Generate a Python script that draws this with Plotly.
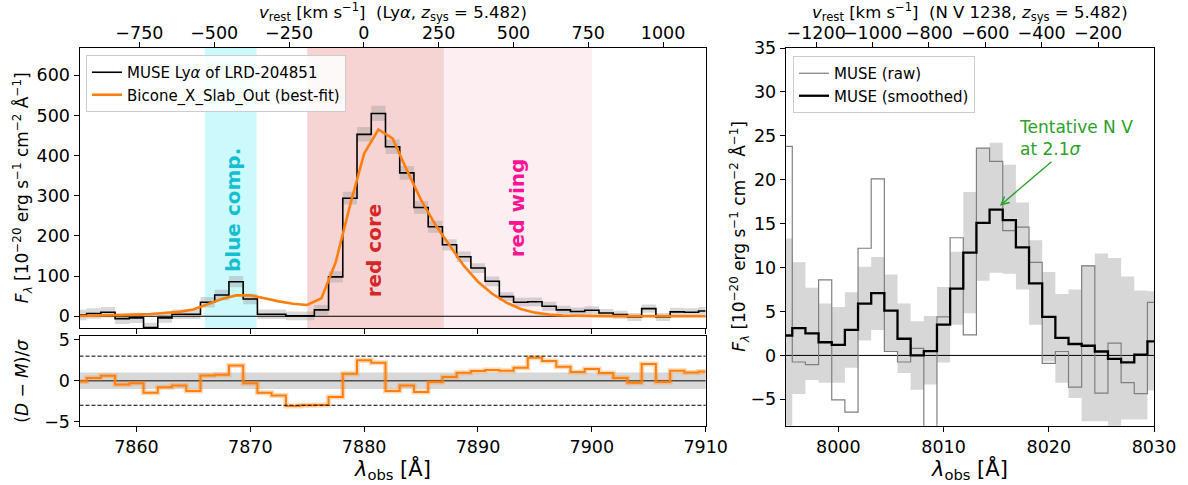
import plotly.graph_objects as go

C_KMS = 299792.458
LYA_REST = 1215.67
NV_REST = 1238.821
Z_SYS = 5.482

# ---------------- Left panel: Ly-alpha ----------------
lya_wave = [7855.0, 7856.25, 7857.5, 7858.75, 7860.0, 7861.25, 7862.5, 7863.75, 7865.0,
            7866.25, 7867.5, 7868.75, 7870.0, 7871.25, 7872.5, 7873.75, 7875.0, 7876.25,
            7877.5, 7878.75, 7880.0, 7881.25, 7882.5, 7883.75, 7885.0, 7886.25, 7887.5,
            7888.75, 7890.0, 7891.25, 7892.5, 7893.75, 7895.0, 7896.25, 7897.5, 7898.75,
            7900.0, 7901.25, 7902.5, 7903.75, 7905.0, 7906.25, 7907.5, 7908.75, 7910.0]
lya_flux = [3, 7, 10, -6, -4, -28, -4, 5, 5, 35, 53, 86, 43, 5, 5, 1, 1, 16, 98, 294,
            453, 505, 422, 357, 271, 223, 178, 148, 120, 87, 49, 35, 36, 25, 16, 12, 15,
            8, 4, -2, 19, -2, 11, 10, 13]
lya_err = [13, 13, 13, 13, 13, 12, 12, 12, 12, 13, 13, 14, 13, 12, 12, 11, 11, 12, 14, 16,
           18, 19, 18, 17, 16, 15, 14, 13, 12, 12, 11, 11, 11, 11, 10, 10, 10, 10, 10, 10,
           10, 10, 10, 10, 10]
lya_model = [0.5, 1, 2, 3, 4, 5.5, 7.5, 11, 17, 30, 43, 52, 52, 45, 37, 31, 28, 45, 134,
             275, 405, 465, 443, 364, 290, 228, 178, 126, 86, 56, 34, 18, 9, 4, 2, 1, 0.5,
             0.3, 0.2, 0.1, 0.1, 0.1, 0, 0, 0]
lya_resid = [-0.1, 0.32, 0.6, -0.45, -0.3, -1.46, -0.8, -0.6, -1.25, 0.65, 0.72, 1.86,
             -0.3, -1.46, -1.82, -3.08, -3.0, -2.96, -2.0, 0.85, 2.5, 2.2, -1.25, -0.6,
             -1.38, -0.15, 0.45, 0.97, 1.18, 1.3, 1.22, 1.58, 2.8, 2.4, 1.7, 1.05, 1.42,
             0.93, 0.32, -0.24, 2.03, -0.16, 1.22, 1.0, 1.13]

regions = {  # name: (lambda_min, lambda_max, fill, text colour, label lambda, label y)
    "blue comp.": (7866.0, 7870.55, "rgba(0,229,238,0.2)", "#17becf", 7868.5, 265),
    "red core": (7875.0, 7887.0, "rgba(214,39,40,0.2)", "#d62728", 7880.9, 165),
    "red wing": (7887.0, 7900.0, "rgba(230,20,70,0.07)", "#ff1493", 7893.5, 271),
}

# ---------------- Right panel: N V ----------------
nv_wave = [7995.0, 7996.25, 7997.5, 7998.75, 8000.0, 8001.25, 8002.5, 8003.75, 8005.0,
           8006.25, 8007.5, 8008.75, 8010.0, 8011.25, 8012.5, 8013.75, 8015.0, 8016.25,
           8017.5, 8018.75, 8020.0, 8021.25, 8022.5, 8023.75, 8025.0, 8026.25, 8027.5,
           8028.75, 8030.0]
nv_raw = [23.8, -0.75, -1.05, 8.6, -5.05, -6.45, 12.2, 20.1, 0.45, -0.75, 0.8, -9.5, 4.4,
          13.4, 2.35, 23.6, 22.1, 14.2, 14.6, 10.6, -0.9, 0.45, -3.6, 10.2, -4.3, 1.4,
          -3.1, -4.35, 6.05]
nv_smooth = [2.27, 3.1, 2.5, 1.5, 1.2, 2.9, 5.9, 7.1, 5.1, 1.9, 0.0, 0.5, 3.5, 7.6, 11.7,
             15.1, 16.6, 15.4, 12.3, 8.2, 4.4, 2.0, 1.3, 1.1, 0.45, -0.4, -0.8, 0.1, 1.6]
nv_upper = [13.3, 10.6, 7.7, 5.9, 5.5, 7.2, 10.1, 11.2, 9.2, 5.9, 3.9, 4.5, 7.8, 11.8, 18.6,
            23.6, 24.2, 21.7, 17.4, 13.1, 9.5, 7.0, 7.5, 10.3, 11.6, 11.1, 9.0, 7.4, 7.3]
nv_lower = [-10, -4.4, -2.8, -3.1, -3.1, -1.4, 1.7, 2.9, 0.5, -2.0, -3.9, -3.3, -0.8, 3.5,
            4.8, 8.5, 9.4, 9.3, 7.5, 3.5, -0.7, -3.1, -4.85, -7.5, -7.5, -8.5, -7.3, -7.3,
            -4.0]

lya_xrange = [7855, 7910]
nv_xrange = [7995, 8030]


def vel(lam, rest):
    return C_KMS * (lam / (rest * (1 + Z_SYS)) - 1)


FONT = "DejaVu Sans"
W, H = 1188, 485


def px(x):
    return x / W


def py(y):
    return 1 - y / H


XL = [px(79.5), px(705.7)]
XR = [px(785.7), px(1154.0)]
Y_MAIN = [py(328.3), py(48.0)]
Y_RES = [py(425.7), py(335.7)]
Y_RIGHT = [py(425.7), py(48.0)]

BAND = "rgba(140,140,140,0.33)"
fig = go.Figure()

# ---- left main ----
lo = [f - e for f, e in zip(lya_flux, lya_err)]
hi = [f + e for f, e in zip(lya_flux, lya_err)]
fig.add_trace(go.Scatter(x=lya_wave, y=lo, mode="lines", line=dict(width=0, shape="hvh"),
                         showlegend=False, hoverinfo="skip", xaxis="x", yaxis="y"))
fig.add_trace(go.Scatter(x=lya_wave, y=hi, mode="lines", line=dict(width=0, shape="hvh"),
                         fill="tonexty", fillcolor=BAND, showlegend=False,
                         hoverinfo="skip", xaxis="x", yaxis="y"))
fig.add_trace(go.Scatter(x=lya_xrange, y=[0, 0], mode="lines", line=dict(color="black", width=1),
                         showlegend=False, hoverinfo="skip", xaxis="x", yaxis="y"))
fig.add_trace(go.Scatter(x=lya_wave, y=lya_flux, mode="lines",
                         line=dict(color="black", width=1.6, shape="hvh"),
                         name="MUSE Ly<i>α</i> of LRD-204851", legend="legend",
                         xaxis="x", yaxis="y"))
fig.add_trace(go.Scatter(x=lya_wave, y=lya_model, mode="lines",
                         line=dict(color="#ff7f0e", width=2.6),
                         name="Bicone_X_Slab_Out (best-fit)", legend="legend",
                         xaxis="x", yaxis="y"))
# dummy for top velocity axis
fig.add_trace(go.Scatter(x=[vel(lya_xrange[0], LYA_REST)], y=[0], mode="markers",
                         marker=dict(opacity=0), showlegend=False, hoverinfo="skip",
                         xaxis="x3", yaxis="y"))

# ---- residual ----
fig.add_trace(go.Scatter(x=lya_wave, y=lya_resid, mode="lines",
                         line=dict(color="rgba(255,127,14,0.3)", width=5, shape="hvh"),
                         showlegend=False, hoverinfo="skip", xaxis="x2", yaxis="y2"))
fig.add_trace(go.Scatter(x=lya_wave, y=lya_resid, mode="lines",
                         line=dict(color="#ff7f0e", width=2, shape="hvh"),
                         showlegend=False, xaxis="x2", yaxis="y2"))

# ---- right panel ----
fig.add_trace(go.Scatter(x=nv_wave, y=nv_lower, mode="lines", line=dict(width=0, shape="hvh"),
                         showlegend=False, hoverinfo="skip", xaxis="x4", yaxis="y3"))
fig.add_trace(go.Scatter(x=nv_wave, y=nv_upper, mode="lines", line=dict(width=0, shape="hvh"),
                         fill="tonexty", fillcolor="rgba(150,150,150,0.38)", showlegend=False,
                         hoverinfo="skip", xaxis="x4", yaxis="y3"))
fig.add_trace(go.Scatter(x=nv_xrange, y=[0, 0], mode="lines", line=dict(color="black", width=1),
                         showlegend=False, hoverinfo="skip", xaxis="x4", yaxis="y3"))
fig.add_trace(go.Scatter(x=nv_wave, y=nv_raw, mode="lines",
                         line=dict(color="#7f7f7f", width=1.2, shape="hvh"),
                         name="MUSE (raw)", legend="legend2", xaxis="x4", yaxis="y3"))
fig.add_trace(go.Scatter(x=nv_wave, y=nv_smooth, mode="lines",
                         line=dict(color="black", width=2.3, shape="hvh"),
                         name="MUSE (smoothed)", legend="legend2", xaxis="x4", yaxis="y3"))
fig.add_trace(go.Scatter(x=[vel(nv_xrange[0], NV_REST)], y=[0], mode="markers",
                         marker=dict(opacity=0), showlegend=False, hoverinfo="skip",
                         xaxis="x5", yaxis="y3"))

# ---- shapes ----
shapes = []
for name, (l0, l1, fc, tc, lx, ly) in regions.items():
    shapes.append(dict(type="rect", xref="x", yref="y domain", x0=l0, x1=l1, y0=0, y1=1,
                       fillcolor=fc, line=dict(width=0), layer="below"))
shapes.append(dict(type="rect", xref="x2 domain", yref="y2", x0=0, x1=1, y0=-1, y1=1,
                   fillcolor="rgba(190,190,190,0.6)", line=dict(width=0), layer="below"))
for yv in (3, -3):
    shapes.append(dict(type="line", xref="x2 domain", yref="y2", x0=0, x1=1, y0=yv, y1=yv,
                       line=dict(color="black", width=1, dash="4px,2px")))
shapes.append(dict(type="line", xref="x2 domain", yref="y2", x0=0, x1=1, y0=0, y1=0,
                   line=dict(color="#4d4d4d", width=1.6), layer="below"))

annotations = []
for name, (l0, l1, fc, tc, lx, ly) in regions.items():
    annotations.append(dict(x=lx, y=ly, xref="x", yref="y", text=f"<b>{name}</b>",
                            textangle=-90, showarrow=False,
                            font=dict(family=FONT, size=20, color=tc)))

TITLE_F = ("<i>F</i><sub><i>λ</i></sub> [10<sup>−20</sup> erg s<sup>−1</sup> "
           "cm<sup>−2</sup> Å<sup>−1</sup>]")


def paper_text(x, y, text, size, angle=0):
    return dict(x=x, y=y, xref="paper", yref="paper", xanchor="center", yanchor="middle",
                text=text, textangle=angle, showarrow=False,
                font=dict(family=FONT, size=size, color="black"))


annotations += [
    paper_text(px(22), (Y_MAIN[0] + Y_MAIN[1]) / 2, TITLE_F, 17, -90),
    paper_text(px(22), (Y_RES[0] + Y_RES[1]) / 2, "(<i>D</i> − <i>M</i>)/<i>σ</i>", 17, -90),
    paper_text(px(740), (Y_RIGHT[0] + Y_RIGHT[1]) / 2, TITLE_F, 17, -90),
    paper_text((XL[0] + XL[1]) / 2, py(469), "<i>λ</i><sub>obs</sub> [Å]", 21),
    paper_text((XR[0] + XR[1]) / 2, py(469), "<i>λ</i><sub>obs</sub> [Å]", 21),
    paper_text((XL[0] + XL[1]) / 2, py(11.5),
               "<i>v</i><sub>rest</sub> [km s<sup>−1</sup>]  (Ly<i>α</i>, "
               "<i>z</i><sub>sys</sub> = 5.482)", 16.5),
    paper_text((XR[0] + XR[1]) / 2, py(11.5),
               "<i>v</i><sub>rest</sub> [km s<sup>−1</sup>]  (N V 1238, "
               "<i>z</i><sub>sys</sub> = 5.482)", 16.5),
    # green annotation
    dict(x=8015.35, y=17.05, xref="x4", yref="y3", ax=8020.4, ay=22.2, axref="x4", ayref="y3",
         text="", showarrow=True, arrowhead=5, arrowsize=1.1, arrowwidth=1.4,
         arrowcolor="#2ca02c"),
    dict(x=8016.97, y=24.8, xref="x4", yref="y3", xanchor="left", yanchor="middle",
         align="left", text="Tentative N V<br>at 2.1<i>σ</i>", showarrow=False,
         font=dict(family=FONT, size=17, color="#2ca02c")),
]

AX = dict(showline=True, linecolor="black", linewidth=1, mirror=True, ticks="outside",
          ticklen=5, tickwidth=1, tickcolor="black", showgrid=False, zeroline=False,
          tickangle=0, automargin=False,
          tickfont=dict(family=FONT, size=17.5, color="black"))

fig.update_layout(
    width=W, height=H, autosize=False,
    margin=dict(l=0, r=0, t=0, b=0, pad=0, autoexpand=False),
    paper_bgcolor="white", plot_bgcolor="white",
    font=dict(family=FONT, color="black"),
    shapes=shapes, annotations=annotations,
    xaxis=dict(AX, domain=XL, range=lya_xrange, anchor="y", showticklabels=False,
               tick0=7860, dtick=10),
    yaxis=dict(AX, domain=Y_MAIN, range=[-30, 668], anchor="x", tick0=0, dtick=100),
    xaxis2=dict(AX, domain=XL, range=lya_xrange, anchor="y2", tick0=7860, dtick=10),
    yaxis2=dict(AX, domain=Y_RES, range=[-5.5, 5.5], anchor="x2", tickvals=[-5, 0, 5]),
    xaxis3=dict(AX, domain=XL, overlaying="x", side="top", anchor="y", showline=False,
                range=[vel(lya_xrange[0], LYA_REST), vel(lya_xrange[1], LYA_REST)],
                tick0=0, dtick=250, mirror=False, ticklabelstandoff=-4),
    xaxis4=dict(AX, domain=XR, range=nv_xrange, anchor="y3", tick0=8000, dtick=10),
    yaxis3=dict(AX, domain=Y_RIGHT, range=[-8, 35], anchor="x4", tick0=0, dtick=5),
    xaxis5=dict(AX, domain=XR, overlaying="x4", side="top", anchor="y3", showline=False,
                range=[vel(nv_xrange[0], NV_REST), vel(nv_xrange[1], NV_REST)],
                tick0=0, dtick=200, mirror=False, ticklabelstandoff=-4),
    legend=dict(x=px(86), y=py(55), xanchor="left", yanchor="top", traceorder="normal",
                bgcolor="rgba(255,255,255,0.85)", bordercolor="#cccccc", borderwidth=1,
                font=dict(family=FONT, size=15), tracegroupgap=0),
    legend2=dict(x=px(793), y=py(56), xanchor="left", yanchor="top", traceorder="normal",
                 bgcolor="rgba(255,255,255,0.85)", bordercolor="#cccccc", borderwidth=1,
                 font=dict(family=FONT, size=15), tracegroupgap=0),
)

fig.write_html("out.html")
